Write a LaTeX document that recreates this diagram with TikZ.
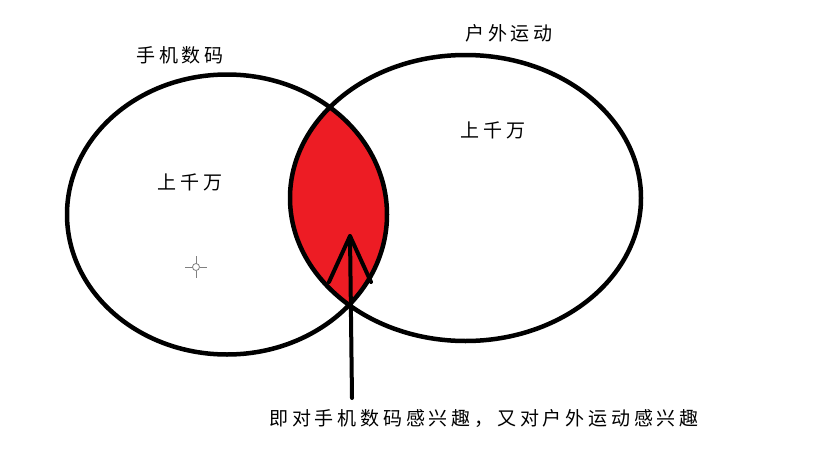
\documentclass[tikz,border=0pt]{standalone}
\usepackage{fontspec}
\newfontfamily\cjk[LetterSpace=20]{Noto Sans CJK SC}
\definecolor{paintred}{HTML}{ED1C24}
\begin{document}
\begin{tikzpicture}[x=1pt,y=-1pt,
  ring/.style={draw=black,line width=4.5pt},
  lbl/.style={font=\cjk\fontsize{19}{19}\selectfont,inner sep=0pt,text=black},
  pointer/.style={line width=4pt,line cap=round,line join=round}]
\useasboundingbox[fill=white] (0,0) rectangle (836,458);
% intersection fill
\begin{scope}
  \clip (227,214.5) ellipse [x radius=160, y radius=140];
  \fill[paintred] (465.5,198) ellipse [x radius=175.5, y radius=143];
\end{scope}
\draw[ring] (227,214.5) ellipse [x radius=160, y radius=140];
\draw[ring] (465.5,198) ellipse [x radius=175.5, y radius=143];
% labels
\node[lbl] (setA) at (180,55) {手机数码};
\node[lbl] (setB) at (509,33) {户外运动};
\node[lbl] (numA) at (190,182) {上千万};
\node[lbl] (numB) at (493,130) {上千万};
\node[lbl] (note) at (484,418) {即对手机数码感兴趣，又对户外运动感兴趣};
% arrow
\coordinate (tip) at (350,236);
\coordinate (tail) at (352,398);
\coordinate (barbL) at (329,282);
\coordinate (barbR) at (371,282);
\draw[pointer] (tail) -- (tip);
\draw[pointer] (barbL) -- (tip) -- (barbR);
% crosshair marker
\coordinate (ch) at (196,267);
\draw[gray,line width=0.8pt] (ch) circle [radius=3.5];
\draw[gray,line width=1pt] (185,267) -- (192.5,267) (199.5,267) -- (207,267)
  (196,256) -- (196,263.5) (196,270.5) -- (196,278);
\end{tikzpicture}
\end{document}
